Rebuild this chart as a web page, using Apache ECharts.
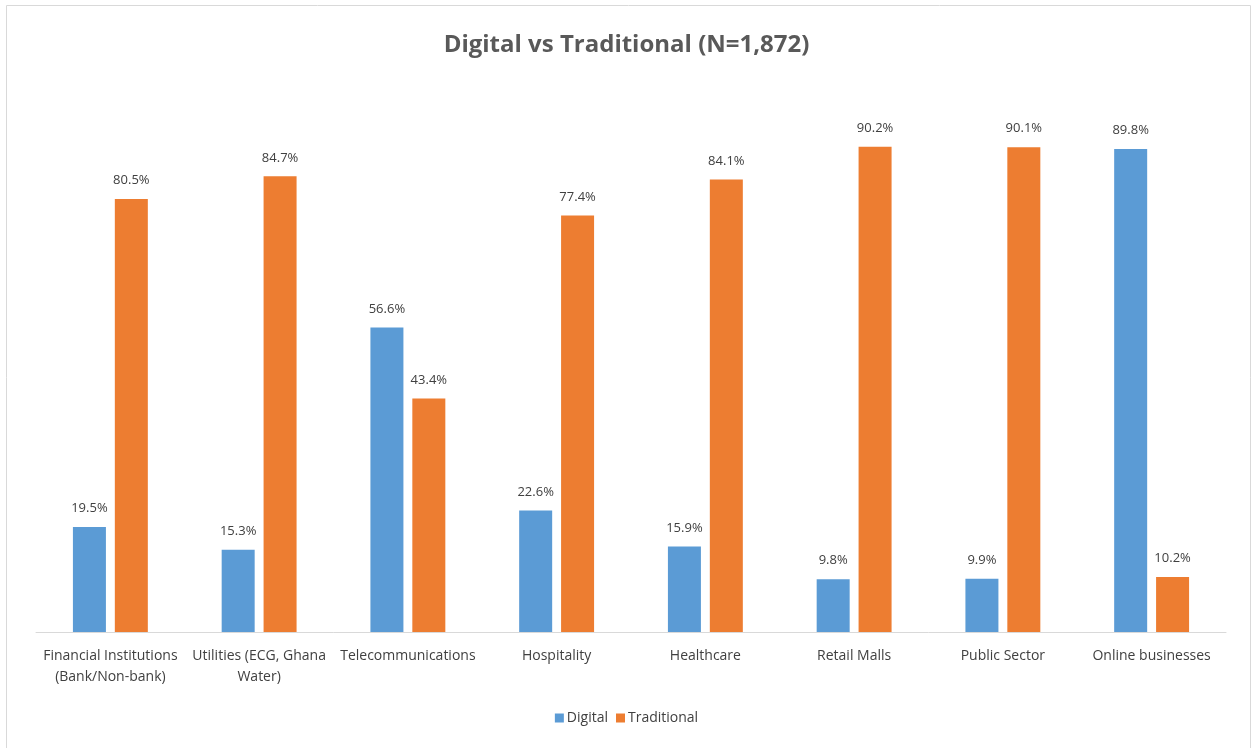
<!DOCTYPE html>
<html>
<head>
<meta charset="utf-8">
<script src="https://cdn.jsdelivr.net/npm/echarts@6/dist/echarts.min.js"></script>
<style>
  html, body { margin: 0; padding: 0; background: #fff; }
  #chart { width: 1253px; height: 748px; }
</style>
</head>
<body>
<div id="chart"></div>
<script>
const categories = [
  'Financial Institutions\n(Bank/Non-bank)',
  'Utilities (ECG, Ghana\nWater)',
  'Telecommunications',
  'Hospitality',
  'Healthcare',
  'Retail Malls',
  'Public Sector',
  'Online businesses'
]
const digital = [19.5, 15.3, 56.6, 22.6, 15.9, 9.8, 9.9, 89.8]
const traditional = [80.5, 84.7, 43.4, 77.4, 84.1, 90.2, 90.1, 10.2]

const chart = echarts.init(document.getElementById('chart'))
const labelStyle = {
  show: true,
  position: 'top',
  distance: 12,
  color: '#404040',
  fontFamily: 'Open Sans',
  fontSize: 13,
  formatter: function (p) {
    return p.value.toFixed(1) + '%'
  }
}
chart.setOption({
  animation: false,
  title: {
    text: 'Digital vs Traditional (N=1,872)',
    left: 'center',
    top: 28,
    textStyle: {
      fontFamily: 'Open Sans',
      fontWeight: 'bold',
      fontSize: 24,
      color: '#595959'
    }
  },
  graphic: [{
    type: 'rect',
    shape: { x: 6.5, y: 5.5, width: 1244, height: 760 },
    style: { fill: 'none', stroke: '#d9d9d9', lineWidth: 1 },
    silent: true
  }],
  legend: {
    bottom: 18,
    left: 'center',
    itemWidth: 9,
    itemHeight: 9,
    itemGap: 8,
    icon: 'rect',
    textStyle: { fontFamily: 'Open Sans', fontSize: 14, color: '#404040', padding: [0, 0, 0, -2] },
    data: ['Digital', 'Traditional']
  },
  grid: {
    left: 36,
    right: 27,
    top: 94,
    bottom: 116
  },
  xAxis: {
    type: 'category',
    data: categories,
    axisLine: { lineStyle: { color: '#d9d9d9', width: 1 } },
    axisTick: { show: false },
    axisLabel: {
      interval: 0,
      margin: 14,
      lineHeight: 21,
      color: '#404040',
      fontFamily: 'Open Sans',
      fontSize: 14
    }
  },
  yAxis: {
    type: 'value',
    min: 0,
    max: 100,
    show: false,
    splitLine: { show: false }
  },
  series: [
    {
      name: 'Digital',
      type: 'bar',
      data: digital,
      barWidth: 33,
      barGap: '27%',
      itemStyle: { color: '#5b9bd5' },
      label: labelStyle
    },
    {
      name: 'Traditional',
      type: 'bar',
      data: traditional,
      barWidth: 33,
      itemStyle: { color: '#ed7d31' },
      label: labelStyle
    }
  ]
})
</script>
</body>
</html>
